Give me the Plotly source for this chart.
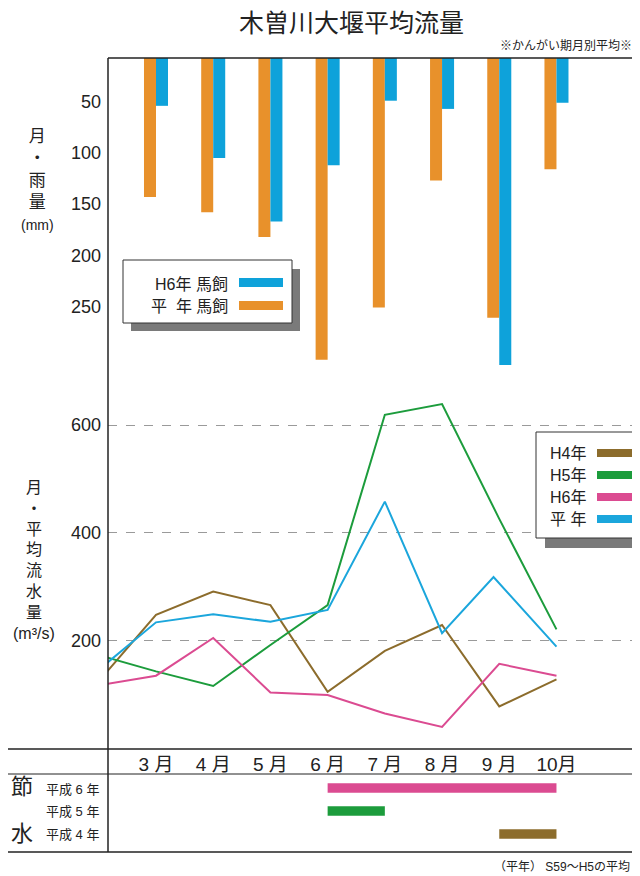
import plotly.graph_objects as go

# ---------------- data ----------------
months = [2, 3, 4, 5, 6, 7, 8, 9, 10]          # 2 = off-axis start point (clipped)
month_ticks = [3, 4, 5, 6, 7, 8, 9, 10]
month_labels = ["3 月", "4 月", "5 月", "6 月", "7 月", "8 月", "9 月", "10月"]

rain_names = ["H6年 馬飼", "平  年 馬飼"]
rain_h6 = [54, 105, 167, 112, 49, 57, 307, 51]
rain_avg = [143, 158, 182, 302, 251, 127, 261, 116]

flow_names = ["H4年", "H5年", "H6年", "平 年"]
flow_h4 = [125, 248, 291, 266, 105, 181, 229, 78, 128]
flow_h5 = [173, 143, 116, 192, 266, 619, 639, 426, 221]
flow_h6 = [117, 135, 205, 104, 99, 65, 40, 157, 135]
flow_avg = [146, 234, 249, 235, 257, 458, 214, 318, 189]
flow_avg_x = [2, 3, 4, 5, 6, 7, 8, 8.9, 10]

drought_rows = ["平成 6 年", "平成 5 年", "平成 4 年"]
drought_start = [6, 6, 9]
drought_end = [10, 7, 10]

rain_ticks = [50, 100, 150, 200, 250]
flow_ticks = [200, 400, 600]

# ---------------- styles ----------------
C_ORANGE = "#e8912b"
C_BLUE_BAR = "#0ea2da"
C_H4 = "#8c6c2c"
C_H5 = "#1c9c3c"
C_H6 = "#db4b91"
C_AVG = "#1ba6dc"
FONT = "Liberation Sans, Arial, Noto Sans CJK JP, sans-serif"
TXT = "#222222"

OFF = 8                      # page body margin
W, H = 640, 876
# plot area in page pixels: x 108..640, y 58..852
L = 108 - OFF
T = 58 - OFF
R = W - (640 - OFF)
B = H - (852 - OFF)
PW, PH = W - L - R, H - T - B


def px(xp):
    return (xp - OFF - L) / PW


def py(yp):
    return (H - B - (yp - OFF)) / PH


fig = go.Figure()

# rainfall bars (reversed axis from top)
fig.add_trace(go.Bar(x=month_ticks, y=rain_avg, name=rain_names[1], marker_color=C_ORANGE,
                     width=0.21, offset=-0.21, yaxis="y", xaxis="x", marker_line_width=0))
fig.add_trace(go.Bar(x=month_ticks, y=rain_h6, name=rain_names[0], marker_color=C_BLUE_BAR,
                     width=0.21, offset=0.0, yaxis="y", xaxis="x", marker_line_width=0))

# flow lines
for name, xs, ys, col in [(flow_names[0], months, flow_h4, C_H4),
                          (flow_names[1], months, flow_h5, C_H5),
                          (flow_names[2], months, flow_h6, C_H6),
                          (flow_names[3], flow_avg_x, flow_avg, C_AVG)]:
    fig.add_trace(go.Scatter(x=xs, y=ys, name=name, mode="lines",
                             line=dict(color=col, width=2), yaxis="y2", xaxis="x"))

# drought-period bars
d_cols = [C_H6, C_H5, C_H4]
fig.add_trace(go.Bar(y=[3, 2, 1], x=[e - s for s, e in zip(drought_start, drought_end)],
                     base=drought_start, orientation="h", width=0.42,
                     marker_color=d_cols, marker_line_width=0, yaxis="y3", xaxis="x"))

dom_top = [py(749), 1]
fig.update_layout(
    width=W, height=H, margin=dict(l=L, r=R, t=T, b=B),
    paper_bgcolor="white", plot_bgcolor="rgba(0,0,0,0)",
    showlegend=False, barmode="overlay",
    font=dict(family=FONT, color=TXT),
    xaxis=dict(range=[2.161, 11.46], tickvals=month_ticks, ticktext=month_labels,
               showline=False, showgrid=False, zeroline=False, anchor="y2",
               tickfont=dict(size=19, color=TXT), ticks="", ticklabelstandoff=2),
    yaxis=dict(domain=dom_top, range=[682, 7.3], tickvals=rain_ticks, showgrid=False,
               zeroline=False, showline=False, tickfont=dict(size=18, color=TXT),
               ticks="", ticklabelstandoff=6, anchor="x"),
    yaxis2=dict(domain=dom_top, range=[-1, 1281], tickvals=flow_ticks, overlaying="y",
                side="left", anchor="x", showgrid=True, gridcolor="#9a9a9a",
                griddash="dash", gridwidth=1, zeroline=False, showline=False,
                tickfont=dict(size=18, color=TXT), ticks="", ticklabelstandoff=6),
    yaxis3=dict(domain=[0, py(775)], range=[0.217, 3.565], showticklabels=False,
                showgrid=False, zeroline=False, showline=False, anchor="x"),
)

shapes = []
def hline(y, x0, x1, w=1.5):
    shapes.append(dict(type="line", xref="paper", yref="paper", x0=px(x0), x1=px(x1),
                       y0=py(y), y1=py(y), line=dict(color="#222", width=w)))

hline(58, 108, 640)
hline(749, 8, 632)
hline(774, 8, 640, 1)
hline(852, 8, 632)
shapes.append(dict(type="line", xref="paper", yref="paper", x0=0, x1=0,
                   y0=py(852), y1=py(58), line=dict(color="#222", width=1.5)))

def rect(x0, y0, x1, y1, fill, line=None):
    shapes.append(dict(type="rect", xref="paper", yref="paper", x0=px(x0), x1=px(x1),
                       y0=py(y1), y1=py(y0), fillcolor=fill,
                       line=dict(color=line or fill, width=1 if line else 0)))

# rain legend box
rect(131, 269, 300, 331, "#7a7a7a")
rect(123, 260, 292, 323, "white", "#333")
rect(239, 278, 283, 287, C_BLUE_BAR)
rect(239, 301, 283, 310, C_ORANGE)
# flow legend box
rect(545, 440, 645, 548, "#7a7a7a")
rect(536, 432, 645, 538, "white", "#333")
for yc, col in zip([453, 475, 497, 519], [C_H4, C_H5, C_H6, C_AVG]):
    rect(597, yc - 4, 645, yc + 4, col)

fig.update_layout(shapes=shapes)

ann = []
def text(x, y, s, size, xanchor="center", color=TXT):
    ann.append(dict(xref="paper", yref="paper", x=px(x), y=py(y), text=s, showarrow=False,
                    xanchor=xanchor, yanchor="middle", font=dict(size=size, color=color, family=FONT)))

text(351, 23, "木曽川大堰平均流量", 25)
text(634, 45, "※かんがい期月別平均※", 12, "right")
text(230, 284, rain_names[0], 16, "right")
text(230, 306, rain_names[1], 16, "right")
for yc, nm in zip([453, 475, 497, 519], flow_names):
    text(548, yc, nm, 16, "left")

ann.append(dict(xref="paper", yref="paper", x=px(37), y=py(180),
                text="月<br>・<br>雨<br>量<br><span style='font-size:14px'>(mm)</span>",
                showarrow=False, xanchor="center", yanchor="middle", align="center",
                font=dict(size=17, color=TXT, family=FONT)))
ann.append(dict(xref="paper", yref="paper", x=px(34), y=py(560),
                text="月<br>・<br>平<br>均<br>流<br>水<br>量<br>(m³/s)",
                showarrow=False, xanchor="center", yanchor="middle", align="center",
                font=dict(size=16, color=TXT, family=FONT)))

text(22, 786, "節", 22)
text(22, 833, "水", 22)
for yc, nm in zip([789, 811, 834], drought_rows):
    text(72, yc, nm, 13)
text(632, 867, "（平年） S59～H5の平均", 12, "right")

fig.update_layout(annotations=ann)
fig.write_html("out.html")
